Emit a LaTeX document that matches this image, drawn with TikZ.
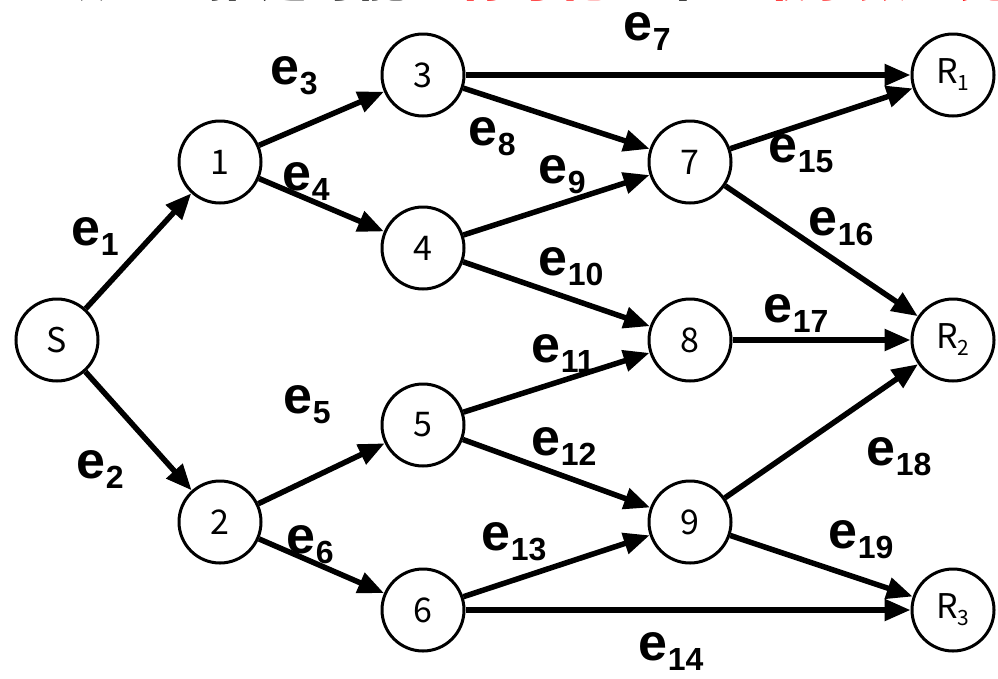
\documentclass[tikz,border=0pt]{standalone}
\usepackage{fontspec}
\setmainfont{Liberation Sans}
\newfontfamily\cjk{Noto Sans CJK JP}
\usetikzlibrary{arrows.meta}

% edge label: bold "e" with a lowered index
\newcommand\elab[1]{\fontsize{52}{52}\selectfont\bfseries e\kern1pt\raisebox{-10pt}{\fontsize{32}{32}\selectfont #1}}
% receiver label: R with a lowered index
\newcommand\rlab[1]{R\raisebox{-7pt}{\fontsize{21}{21}\selectfont #1}}

\tikzset{
  vtx/.style={circle, draw=black, line width=3pt, fill=white,
    minimum size=82pt, inner sep=0pt, font=\cjk\fontsize{34}{34}\selectfont},
  edge/.style={line width=5.5pt, -{Triangle[length=26pt,width=21pt]}},
  elabel/.style={anchor=base west, inner sep=0pt, outer sep=0pt},
}

\begin{document}
\begin{tikzpicture}[x=1pt,y=-1pt]
\useasboundingbox (0,0) rectangle (998,678);

% heading line, only its lower edge lies inside the page
\begin{scope}
\clip (0,0) rectangle (998,678);
\node[anchor=base west, inner sep=0pt, font=\cjk\bfseries\fontsize{50}{50}\selectfont]
  (head) at (58,-4) {誤りを推定可能な\textcolor{red}{符号化}の中で\textcolor{red}{最小数を見}};
\end{scope}

% vertices
\node[vtx] (s)  at (57,340)  {S};
\node[vtx] (n1) at (220,162) {1};
\node[vtx] (n2) at (220,522) {2};
\node[vtx] (n3) at (423,75)  {3};
\node[vtx] (n4) at (423,248) {4};
\node[vtx] (n5) at (423,425) {5};
\node[vtx] (n6) at (423,610) {6};
\node[vtx] (n7) at (690,162) {7};
\node[vtx] (n8) at (690,340) {8};
\node[vtx] (n9) at (690,522) {9};
\node[vtx] (r1) at (953,75)  {\rlab{1}};
\node[vtx] (r2) at (953,340) {\rlab{2}};
\node[vtx] (r3) at (953,610) {\rlab{3}};

% links
\draw[edge] (s)  -- (n1);
\draw[edge] (s)  -- (n2);
\draw[edge] (n1) -- (n3);
\draw[edge] (n1) -- (n4);
\draw[edge] (n2) -- (n5);
\draw[edge] (n2) -- (n6);
\draw[edge] (n3) -- (r1);
\draw[edge] (n3) -- (n7);
\draw[edge] (n4) -- (n7);
\draw[edge] (n4) -- (n8);
\draw[edge] (n5) -- (n8);
\draw[edge] (n5) -- (n9);
\draw[edge] (n6) -- (n9);
\draw[edge] (n6) -- (r3);
\draw[edge] (n7) -- (r1);
\draw[edge] (n7) -- (r2);
\draw[edge] (n8) -- (r2);
\draw[edge] (n9) -- (r2);
\draw[edge] (n9) -- (r3);

% link labels
\node[elabel] (l1)  at (71,245)  {\elab{1}};
\node[elabel] (l2)  at (76,478)  {\elab{2}};
\node[elabel] (l3)  at (270,84)  {\elab{3}};
\node[elabel] (l4)  at (282,190) {\elab{4}};
\node[elabel] (l5)  at (283,413) {\elab{5}};
\node[elabel] (l6)  at (286,553) {\elab{6}};
\node[elabel] (l7)  at (623,40)  {\elab{7}};
\node[elabel] (l8)  at (468,145) {\elab{8}};
\node[elabel] (l9)  at (538,183) {\elab{9}};
\node[elabel] (l10) at (538,275) {\elab{10}};
\node[elabel] (l11) at (531,362) {\elab{11}};
\node[elabel] (l12) at (531,455) {\elab{12}};
\node[elabel] (l13) at (481,550) {\elab{13}};
\node[elabel] (l14) at (638,660) {\elab{14}};
\node[elabel] (l15) at (768,162) {\elab{15}};
\node[elabel] (l16) at (808,235) {\elab{16}};
\node[elabel] (l17) at (763,322) {\elab{17}};
\node[elabel] (l18) at (866,465) {\elab{18}};
\node[elabel] (l19) at (828,548) {\elab{19}};
\end{tikzpicture}
\end{document}
